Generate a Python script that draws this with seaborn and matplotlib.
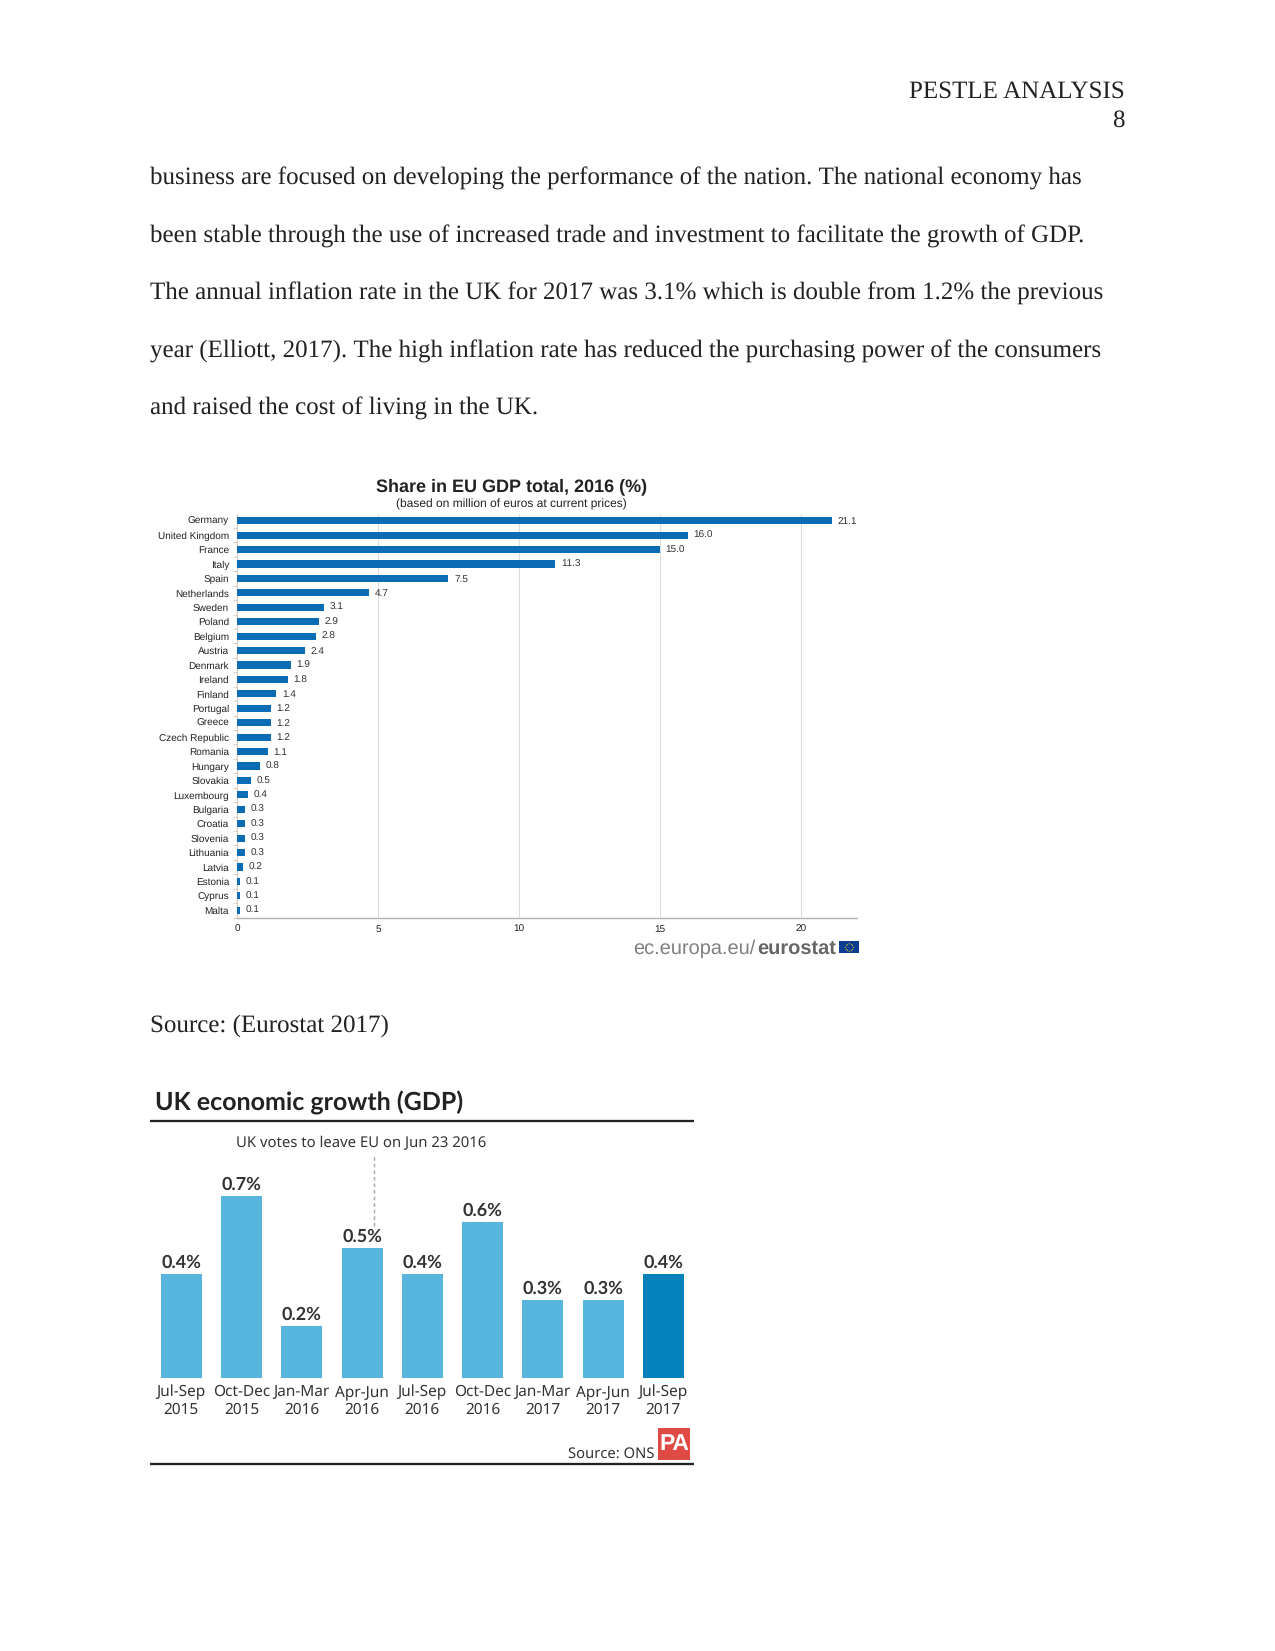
import numpy as np
import matplotlib
matplotlib.use("Agg")
import matplotlib.pyplot as plt
from matplotlib.patches import Rectangle
import seaborn as sns

countries = ["Germany", "United Kingdom", "France", "Italy", "Spain", "Netherlands", "Sweden",
             "Poland", "Belgium", "Austria", "Denmark", "Ireland", "Finland", "Portugal", "Greece",
             "Czech Republic", "Romania", "Hungary", "Slovakia", "Luxembourg", "Bulgaria", "Croatia",
             "Slovenia", "Lithuania", "Latvia", "Estonia", "Cyprus", "Malta"]
shares = [21.1, 16.0, 15.0, 11.3, 7.5, 4.7, 3.1, 2.9, 2.8, 2.4, 1.9, 1.8, 1.4, 1.2, 1.2, 1.2, 1.1,
          0.8, 0.5, 0.4, 0.3, 0.3, 0.3, 0.3, 0.2, 0.1, 0.1, 0.1]
quarters = ["Jul-Sep\n2015", "Oct-Dec\n2015", "Jan-Mar\n2016", "Apr-Jun\n2016", "Jul-Sep\n2016",
            "Oct-Dec\n2016", "Jan-Mar\n2017", "Apr-Jun\n2017", "Jul-Sep\n2017"]
growth = [0.4, 0.7, 0.2, 0.5, 0.4, 0.6, 0.3, 0.3, 0.4]
body_lines = [
    "business are focused on developing the performance of the nation. The national economy has",
    "been stable through the use of increased trade and investment to facilitate the growth of GDP.",
    "The annual inflation rate in the UK for 2017 was 3.1% which is double from 1.2% the previous",
    "year (Elliott, 2017). The high inflation rate has reduced the purchasing power of the consumers",
    "and raised the cost of living in the UK.",
]

W, H = 1275, 1651
sns.set_theme(style="white")
plt.rcParams["font.family"] = ["Liberation Sans", "DejaVu Sans"]
plt.rcParams["text.hinting"] = "no_hinting"
plt.rcParams["text.hinting_factor"] = 1
fig = plt.figure(figsize=(W / 150, H / 150), dpi=150, facecolor="white")


def fx(x):
    return x / W


def fy(y):
    return 1 - y / H


def axes_px(l, t, r, b):
    return fig.add_axes([fx(l), fy(b), (r - l) / W, (b - t) / H])


def page(x, y, s, **kw):
    kw.setdefault("family", "Liberation Serif")
    kw.setdefault("fontsize", 12)
    kw.setdefault("color", "#222222")
    kw.setdefault("va", "baseline")
    return fig.text(fx(x), fy(y), s, **kw)


# Page text
page(1124.5, 98, "PESTLE ANALYSIS", ha="right", fontsize=12.15)
page(1124.5, 127, "8", ha="right")
for line, y in zip(body_lines, [184.5, 242.5, 299, 358, 414.8]):
    page(150, y, line)
page(150, 1031.5, "Source: (Eurostat 2017)")

# EU chart
ax = axes_px(237, 513.5, 857, 917.5)
sns.barplot(x=shares, y=countries, color="#0a6cb4", width=0.5, saturation=1, ax=ax, orient="h", zorder=3,
            linewidth=0, edgecolor="none")
ax.set_xlim(0, 22)
ax.set_ylim(len(countries) - 0.5, -0.5)
ax.set_xticks([0, 5, 10, 15, 20])
ax.grid(axis="x", color="#dcdcdc", lw=0.5, zorder=0)
ax.set_axisbelow(True)
for s in ["top", "right"]:
    ax.spines[s].set_visible(False)
ax.spines["left"].set_color("#d8d0c4")
ax.spines["left"].set_linewidth(0.6)
ax.spines["bottom"].set_color("#b5b5b5")
ax.spines["bottom"].set_linewidth(0.7)
ax.set_yticks(np.arange(len(countries)) + 0.5, minor=True)
ax.tick_params(axis="y", which="minor", length=2, width=0.4, color="#d8c8b8", left=True)
ax.tick_params(axis="y", which="major", length=0, pad=3.8, labelsize=4.9, labelcolor="#222222")
ax.tick_params(axis="x", length=0, pad=3.5, labelsize=5.0, labelcolor="#222222")
for i, v in enumerate(shares):
    ax.text(v + 0.2, i + 0.03, f"{v:.1f}", va="center", ha="left", fontsize=5.0, color="#333333")

page(512, 491, "Share in EU GDP total, 2016 (%)", ha="center", family="Liberation Sans",
     fontweight="bold", fontsize=8.67)
page(511, 507.5, "(based on million of euros at current prices)", ha="center", family="Liberation Sans",
     fontsize=5.8)
page(756, 954, "ec.europa.eu/", ha="right", family="Liberation Sans", fontsize=9.6, color="#808080")
page(836.5, 954, "eurostat", ha="right", family="Liberation Sans", fontsize=9.5, color="#666666",
     fontweight="bold")

# Logos and rules use an overlay axes in pixel units
ov = fig.add_axes([0, 0, 1, 1], facecolor="none", zorder=5)
ov.axis("off")

# PA chart
ax2 = axes_px(150, 1130, 694, 1378)
colors = ["#58b5de"] * 8 + ["#0281bb"]
sns.barplot(x=list(range(len(growth))), y=growth, hue=list(range(len(growth))), palette=colors,
            legend=False, width=0.68, saturation=1, ax=ax2, linewidth=0, edgecolor="none")
ax2.set_xlim(-0.52, 8.51)
ax2.set_ylim(0, 0.953)
ax2.axis("on")
for s in ax2.spines.values():
    s.set_visible(False)
ax2.patch.set_alpha(0)
ax2.set_yticks([])
ax2.set_xticks(range(len(quarters)), quarters)
ax2.tick_params(axis="x", length=0, pad=3.0, labelsize=7.4, labelcolor="#333333")
for lab in ax2.get_xticklabels():
    lab.set_family("Noto Sans")
    lab.set_linespacing(1.2)
for i, v in enumerate(growth):
    ax2.text(i, v + 0.012, f"{v:.1f}%", ha="center", va="bottom", fontsize=8.7, fontweight="bold",
             family="Lato", color="#333333")
ax2.vlines(3.19, 0.583, 0.857, color="#aaaaaa", lw=0.7, ls=(0, (2.5, 2)))

page(155, 1110, "UK economic growth (GDP)", family="Lato", fontweight="bold",
     fontsize=12, color="#222222")
page(361, 1147, "UK votes to leave EU on Jun 23 2016", ha="center", family="Noto Sans", fontsize=7.15,
     color="#333333")
ov.plot([150, 694], [1121, 1121], color="#222222", lw=1.1, solid_capstyle="butt")
ov.plot([150, 694], [1464, 1464], color="#222222", lw=1.1, solid_capstyle="butt")
page(654, 1458, "Source: ONS", ha="right", family="Noto Sans", fontsize=7.1, color="#333333")
ov.add_patch(Rectangle((658, 1428), 32, 32, color="#e04a45", lw=0))
ov.text(674, 1444, "PA", ha="center", va="center", color="white", fontsize=11, fontweight="bold",
        family="Liberation Sans")

# Eurostat mark
ov.add_patch(Rectangle((839, 941), 20, 12, color="#0a3d8f", lw=0))
theta = np.linspace(0, 2 * np.pi, 13)[:-1]
ov.scatter(849 + 3.8 * np.cos(theta), 947 + 3.8 * np.sin(theta), s=0.4, color="#b0a840", lw=0)
ov.set_xlim(0, W)
ov.set_ylim(H, 0)

fig.savefig("out.png", dpi=150, facecolor="white")
